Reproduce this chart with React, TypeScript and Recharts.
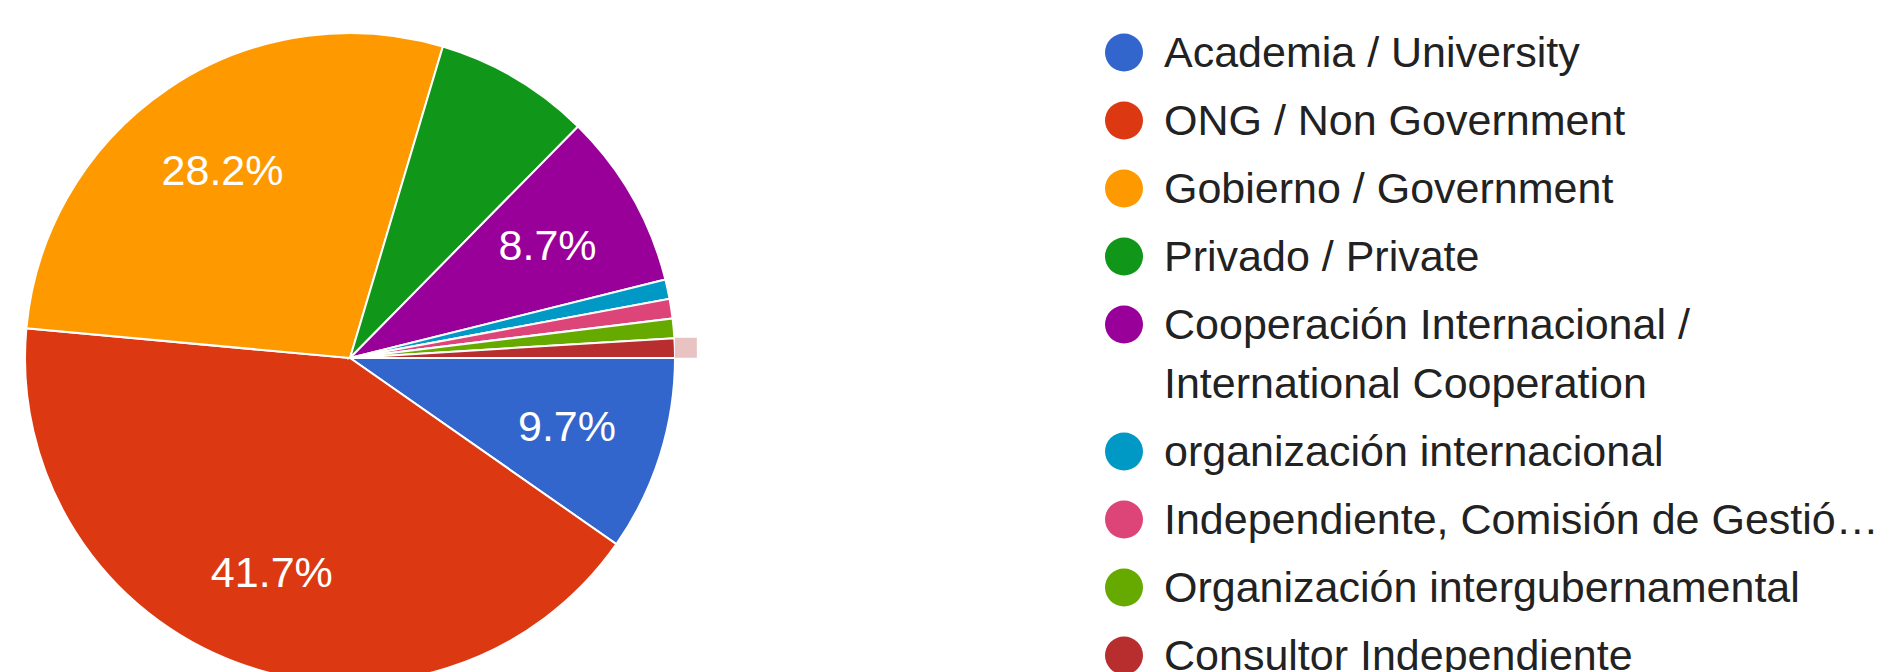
import React from 'react';
import { PieChart, Pie, Cell, Legend } from 'recharts';

const categories = [
  'Academia / University',
  'ONG / Non Government',
  'Gobierno / Government',
  'Privado / Private',
  'Cooperación Internacional / International Cooperation',
  'organización internacional',
  'Independiente, Comisión de Gestió…',
  'Organización intergubernamental',
  'Consultor Independiente',
];

// respondents per category (103 total)
const respondents = [10, 43, 29, 8, 9, 1, 1, 1, 1];

const sliceColors = [
  '#3366cc', // blue
  '#dc3912', // red
  '#ff9900', // orange
  '#109618', // green
  '#990099', // purple
  '#0099c6', // cyan
  '#dd4477', // pink
  '#66aa00', // light green
  '#b82e2e', // dark red
];

const data = categories.map((name, i) => ({ name, value: respondents[i] }));

const RADIAN = Math.PI / 180;
const FONT = '"Liberation Sans", Arial, sans-serif';

// Google-style in-slice percentage labels (small slices get none)
const renderLabel = (props: any) => {
  const { cx, cy, midAngle, outerRadius, percent, index } = props;
  if (index === data.length - 1) {
    // little residue marker just outside the last slice
    const r = outerRadius + 11;
    const x = cx + r * Math.cos(-midAngle * RADIAN);
    const y = cy + r * Math.sin(-midAngle * RADIAN);
    return <rect x={x - 11} y={y - 10} width={22} height={20} fill="#e9c2c2" />;
  }
  if (percent < 0.08) return null;
  const r = outerRadius * 0.7;
  const x = cx + r * Math.cos(-midAngle * RADIAN);
  const y = cy + r * Math.sin(-midAngle * RADIAN);
  return (
    <text
      x={x}
      y={y}
      fill="#ffffff"
      textAnchor="middle"
      dominantBaseline="central"
      style={{ fontFamily: FONT, fontSize: 43 }}
    >
      {`${(percent * 100).toFixed(1)}%`}
    </text>
  );
};

// legend keeps the data order (recharts would sort it by name)
const LegendContent = () => (
  <div style={{ fontFamily: FONT, fontSize: 43, color: '#222222' }}>
    {categories.map((name, i) => (
      <div
        key={name}
        style={{ display: 'flex', alignItems: 'flex-start', marginBottom: 9, lineHeight: '59px' }}
      >
        <svg width={40} height={59} style={{ flex: 'none' }}>
          <circle cx={20} cy={29.5} r={19} fill={sliceColors[i]} />
        </svg>
        <span style={{ marginLeft: 20, width: 730, flex: 'none' }}>{name}</span>
      </div>
    ))}
  </div>
);

export default function App() {
  return (
    <div style={{ position: 'absolute', left: 0, top: 0, width: 1882, height: 672, background: '#fff', overflow: 'hidden' }}>
      <PieChart width={1882} height={672}>
        <Pie
          data={data}
          dataKey="value"
          nameKey="name"
          cx={345}
          cy={353}
          outerRadius={325}
          startAngle={0}
          endAngle={-360}
          stroke="#ffffff"
          strokeWidth={2}
          label={renderLabel}
          labelLine={false}
          isAnimationActive={false}
        >
          {data.map((d, i) => (
            <Cell key={d.name} fill={sliceColors[i]} />
          ))}
        </Pie>
        <Legend
          layout="vertical"
          verticalAlign="top"
          align="right"
          content={<LegendContent />}
          wrapperStyle={{ left: 1104, top: 23, width: 800 }}
        />
      </PieChart>
    </div>
  );
}
